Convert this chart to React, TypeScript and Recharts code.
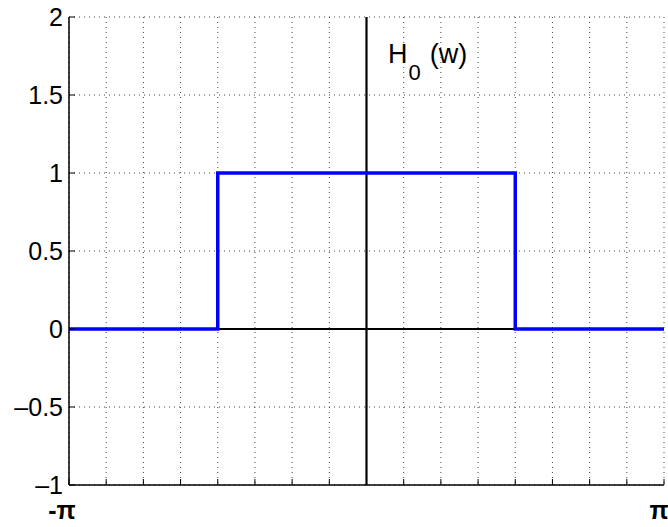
import { LineChart, Line, XAxis, YAxis, CartesianGrid, ReferenceLine, Customized } from "recharts";

const PI = Math.PI;

// breakpoints of the ideal lowpass response, in units of pi
const wPoints = [-1, -0.5, -0.5, 0.5, 0.5, 1];
const hValues = [0, 0, 1, 1, 0, 0];

const xTicks = [-8, -7, -6, -5, -4, -3, -2, -1, 0, 1, 2, 3, 4, 5, 6, 7, 8].map((k) => (k * PI) / 8);
const yTicks = [-1, -0.5, 0, 0.5, 1, 1.5, 2];
const yTickLabels = ["\u20131", "\u20130.5", "0", "0.5", "1", "1.5", "2"];

const data = wPoints.map((w, i) => ({ w: w * PI, h: hValues[i] }));

const FONT = "'Liberation Sans', Arial, Helvetica, sans-serif";
const TICK = 6;

function BottomTick(props: any) {
  const { x, y, index } = props;
  const last = xTicks.length - 1;
  return (
    <g>
      <line x1={x} y1={y} x2={x} y2={y - TICK} stroke="#000" strokeWidth={1} />
      {index === 0 && (
        <text x={x - 7} y={y + 34} textAnchor="middle" fontFamily={FONT} fontWeight="bold" fontSize={25} fill="#000">
          -π
        </text>
      )}
      {index === last && (
        <text x={x - 5} y={y + 34} textAnchor="middle" fontFamily={FONT} fontWeight="bold" fontSize={25} fill="#000">
          π
        </text>
      )}
    </g>
  );
}

function TopTick(props: any) {
  const { x, y } = props;
  return <line x1={x} y1={y} x2={x} y2={y + TICK} stroke="#000" strokeWidth={1} />;
}

function LeftTick(props: any) {
  const { x, y, index } = props;
  return (
    <g>
      <line x1={x} y1={y} x2={x + TICK} y2={y} stroke="#000" strokeWidth={1} />
      <text x={x - 6} y={y} dy={9} textAnchor="end" fontFamily={FONT} fontSize={25} fill="#000">
        {yTickLabels[index]}
      </text>
    </g>
  );
}

function RightTick(props: any) {
  const { x, y } = props;
  return <line x1={x} y1={y} x2={x - TICK} y2={y} stroke="#000" strokeWidth={1} />;
}

function Title() {
  return (
    <text x={388} y={63} fontFamily={FONT} fontSize={27} fill="#000">
      H
      <tspan dx={1} dy={17} fontSize={22}>0</tspan>
      <tspan dx={9} dy={-17}>(w)</tspan>
    </text>
  );
}

export default function App() {
  return (
    <div style={{ position: "absolute", left: 0, top: 0, background: "#fff" }}>
      <LineChart width={668} height={527} data={data} margin={{ top: 17, right: 4, bottom: 0, left: 0 }}>
        <CartesianGrid xAxisId="b" yAxisId="l" stroke="#444" strokeDasharray="1 4" />
        <XAxis
          xAxisId="b"
          dataKey="w"
          type="number"
          domain={[-PI, PI]}
          ticks={xTicks}
          interval={0}
          tickSize={0}
          tickMargin={0}
          tickLine={false}
          height={42}
          axisLine={{ stroke: "#000", strokeWidth: 1.5 }}
          tick={<BottomTick />}
          allowDataOverflow
        />
        <XAxis
          xAxisId="t"
          orientation="top"
          dataKey="w"
          type="number"
          domain={[-PI, PI]}
          ticks={xTicks}
          interval={0}
          tickSize={0}
          tickMargin={0}
          tickLine={false}
          height={0}
          axisLine={{ stroke: "#000", strokeWidth: 1.5 }}
          tick={<TopTick />}
        />
        <YAxis
          yAxisId="l"
          type="number"
          domain={[-1, 2]}
          ticks={yTicks}
          interval={0}
          tickSize={0}
          tickMargin={0}
          tickLine={false}
          width={69}
          axisLine={{ stroke: "#000", strokeWidth: 1.5 }}
          tick={<LeftTick />}
        />
        <YAxis
          yAxisId="r"
          orientation="right"
          type="number"
          domain={[-1, 2]}
          ticks={yTicks}
          interval={0}
          tickSize={0}
          tickMargin={0}
          tickLine={false}
          width={0}
          axisLine={{ stroke: "#000", strokeWidth: 1.5 }}
          tick={<RightTick />}
        />
        <ReferenceLine xAxisId="b" yAxisId="l" y={0} stroke="#000" strokeWidth={2.2} />
        <ReferenceLine xAxisId="b" yAxisId="l" x={0} stroke="#000" strokeWidth={2.2} />
        <Line
          xAxisId="b"
          yAxisId="l"
          type="linear"
          dataKey="h"
          stroke="#0000ff"
          strokeWidth={3.5}
          dot={false}
          activeDot={false}
          isAnimationActive={false}
        />
        <Customized component={Title} />
      </LineChart>
    </div>
  );
}
